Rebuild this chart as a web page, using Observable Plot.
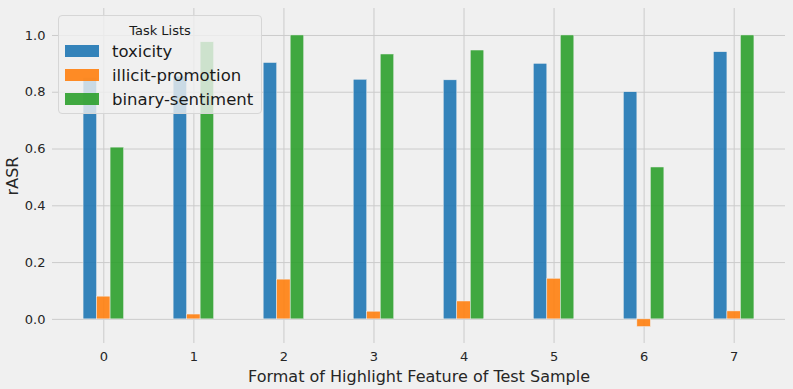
<!DOCTYPE html>
<html>
<head>
<meta charset="utf-8">
<script src="https://cdn.jsdelivr.net/npm/d3@7"></script>
<script src="https://cdn.jsdelivr.net/npm/@observablehq/plot@0.6"></script>
<style>
  html, body { margin: 0; padding: 0; background: #f0f0f0; }
  #wrap { position: relative; width: 793px; height: 389px; font-family: "DejaVu Sans", sans-serif; }
  #legend {
    position: absolute; left: 58px; top: 15px; width: 204px; height: 99px;
    background: rgba(240,240,240,0.8); border: 1px solid #d6d6d6; border-radius: 4px;
    box-sizing: border-box; color: #1a1a1a;
  }
  #legend .title { text-align: center; font-size: 13px; margin-top: 7px; height: 16px; line-height: 16px; }
  #legend .row { display: flex; align-items: center; height: 24px; margin-left: 6px; }
  #legend .sw { width: 34px; height: 12px; margin-right: 13px; }
  #legend .lab { font-size: 16.5px; }
</style>
</head>
<body>
<div id="wrap"></div>
<script>
const formats = [0, 1, 2, 3, 4, 5, 6, 7];
const tasks = ["toxicity", "illicit-promotion", "binary-sentiment"];
const toxicity = [0.85, 0.855, 0.903, 0.844, 0.842, 0.900, 0.800, 0.941];
const illicitPromotion = [0.080, 0.017, 0.140, 0.027, 0.063, 0.143, -0.027, 0.028];
const binarySentiment = [0.605, 0.976, 1.000, 0.933, 0.947, 1.000, 0.535, 1.000];
const colors = ["#1f77b4", "#ff7f0e", "#2ca02c"];
const yTicks = [0.0, 0.2, 0.4, 0.6, 0.8, 1.0];

const series = [toxicity, illicitPromotion, binarySentiment];
const barW = 0.15;
const data = [];
tasks.forEach((t, k) => formats.forEach((f, i) => data.push({format: f, task: t, k, value: series[k][i]})));

const chart = Plot.plot({
  width: 793, height: 389,
  marginLeft: 52, marginRight: 8, marginTop: 8, marginBottom: 46,
  style: {background: "#f0f0f0", fontFamily: "DejaVu Sans, sans-serif", fontSize: "13px", color: "#262626"},
  x: {type: "linear", domain: [-0.57, 7.57]},
  y: {domain: [-0.085, 1.095]},
  color: {domain: tasks, range: colors},
  marks: [
    Plot.gridX(formats, {stroke: "#cbcbcb", strokeOpacity: 1, strokeWidth: 1}),
    Plot.gridY(yTicks, {stroke: "#cbcbcb", strokeOpacity: 1, strokeWidth: 1}),
    Plot.rect(data, {
      x1: d => d.format + (d.k - 1) * barW - barW / 2,
      x2: d => d.format + (d.k - 1) * barW + barW / 2,
      y1: 0, y2: "value",
      fill: "task", fillOpacity: 0.9,
      stroke: "#f0f0f0", strokeWidth: 0.5
    }),
    Plot.axisX(formats, {tickSize: 0, tickPadding: 8, tickFormat: d => String(d), fontSize: 13,
      label: "Format of Highlight Feature of Test Sample", labelAnchor: "center", labelOffset: 38, labelArrow: "none"}),
    Plot.axisY(yTicks, {tickSize: 0, tickPadding: 7, tickFormat: d3.format(".1f"), fontSize: 13,
      label: "rASR", labelAnchor: "center", labelOffset: 46, labelArrow: "none"})
  ]
});
chart.querySelectorAll('g[aria-label="x-axis label"] text, g[aria-label="y-axis label"] text').forEach(t => t.setAttribute("font-size", "16"));
const wrap = document.getElementById("wrap");
wrap.appendChild(chart);

const legend = document.createElement("div");
legend.id = "legend";
legend.innerHTML = '<div class="title">Task Lists</div>' +
  tasks.map((t, k) => `<div class="row"><div class="sw" style="background:${colors[k]};opacity:0.9"></div><div class="lab">${t}</div></div>`).join("");
wrap.appendChild(legend);
</script>
</body>
</html>
